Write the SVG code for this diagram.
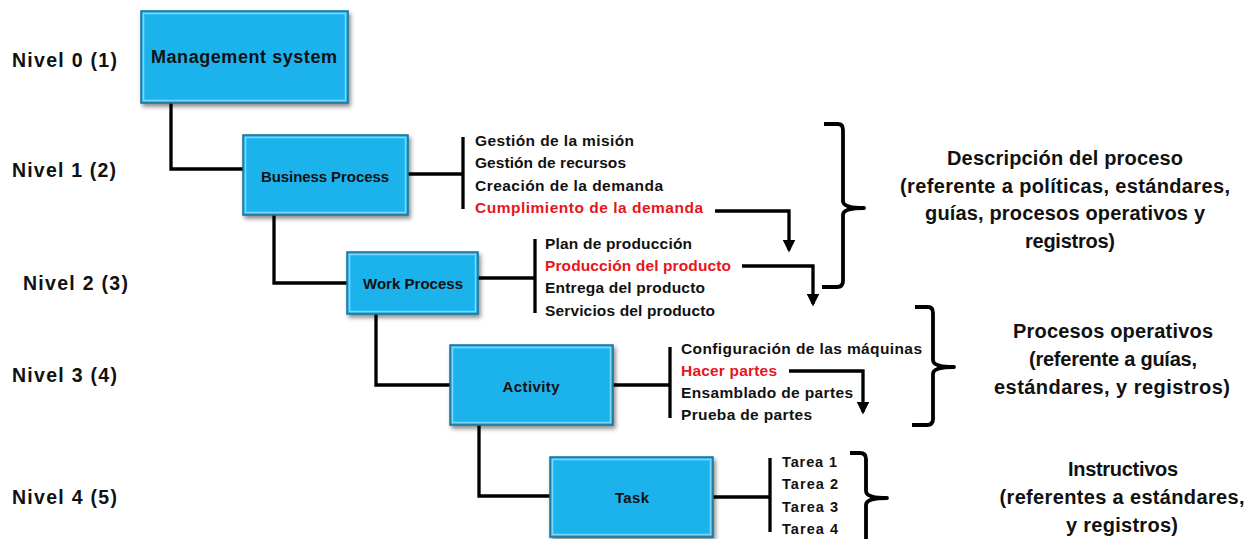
<svg xmlns="http://www.w3.org/2000/svg" width="1251" height="539" viewBox="0 0 1251 539">
<style>
text{font-family:"Liberation Sans",Arial,sans-serif;font-weight:bold;fill:#111}
.lvl{font-size:19.5px}
.box{font-size:15px;text-anchor:middle}
.lst{font-size:15.5px}
.red{fill:#e8151b}
.desc{font-size:20px;text-anchor:middle}
.ln{fill:none;stroke:#000;stroke-width:3.3}
.br{fill:none;stroke:#000;stroke-width:3.8;stroke-linejoin:round}
.node rect.b{fill:#1fb3ec;stroke:#1a6f92;stroke-width:1.5}
.node rect.h{fill:none;stroke:#7fd6f7;stroke-width:1.5}
</style>
<defs>
<filter id="sh" x="-10%" y="-10%" width="130%" height="140%"><feDropShadow dx="2" dy="3" stdDeviation="2" flood-color="#000" flood-opacity="0.45"/></filter>
<marker id="ar" viewBox="0 0 10 10" refX="8" refY="5" markerWidth="3.8" markerHeight="3.8" orient="auto"><path d="M0,0 L10,5 L0,10 z" fill="#000"/></marker>
</defs>
<g id="levels">
<text class="lvl" x="12" y="67" textLength="105">Nivel 0 (1)</text>
<text class="lvl" x="12" y="177" textLength="104">Nivel 1 (2)</text>
<text class="lvl" x="23" y="290" textLength="105">Nivel 2 (3)</text>
<text class="lvl" x="12" y="382" textLength="105">Nivel 3 (4)</text>
<text class="lvl" x="12" y="504" textLength="105">Nivel 4 (5)</text>
</g>
<g id="connectors">
<path class="ln" d="M171,103 V169 H243"/>
<path class="ln" d="M274,215 V283 H347"/>
<path class="ln" d="M376,314 V385 H450"/>
<path class="ln" d="M479,425 V496 H550"/>
<path class="ln" d="M408,174 H463"/>
<path class="ln" d="M478,278 H535"/>
<path class="ln" d="M613,385 H670"/>
<path class="ln" d="M713,497 H770"/>
<path class="ln" d="M463,137 V209"/>
<path class="ln" d="M535,239 V313"/>
<path class="ln" d="M670,347 V418"/>
<path class="ln" d="M770,458 V532"/>
<path class="ln" d="M715,211 H789 V250" marker-end="url(#ar)"/>
<path class="ln" d="M742,266 H813 V304" marker-end="url(#ar)"/>
<path class="ln" d="M789,371 H863 V412" marker-end="url(#ar)"/>
</g>
<g id="braces">
<path class="br" d="M824,124 H838 Q843,124 843,130 V201 Q843,208 864,208 Q843,208 843,215 V281 Q843,287 837,287 H822"/>
<path class="br" d="M915,307 H928 Q933,307 933,313 V360 Q933,367 954,367 Q933,367 933,374 V419 Q933,425 927,425 H912"/>
<path class="br" d="M850,453 H860 Q866,453 866,459 V491 Q866,498 887,498 Q866,498 866,505 V545"/>
</g>
<g id="n0" class="node">
<rect class="b" x="141" y="11" width="207" height="92" filter="url(#sh)"/>
<rect class="h" x="143.5" y="13.5" width="202" height="87"/>
<text class="box" x="244" y="63" style="font-size:18px" textLength="186">Management system</text>
</g>
<g id="n1" class="node">
<rect class="b" x="243" y="135" width="165" height="80" filter="url(#sh)"/>
<rect class="h" x="245.5" y="137.5" width="160" height="75"/>
<text class="box" x="325" y="182" textLength="128">Business Process</text>
<text class="lst" x="475" y="146" textLength="159">Gestión de la misión</text>
<text class="lst" x="475" y="168" textLength="151">Gestión de recursos</text>
<text class="lst" x="475" y="191" textLength="188">Creación de la demanda</text>
<text class="lst red" x="475" y="213" textLength="228">Cumplimiento de la demanda</text>
</g>
<g id="n2" class="node">
<rect class="b" x="347" y="252" width="131" height="62" filter="url(#sh)"/>
<rect class="h" x="349.5" y="254.5" width="126" height="57"/>
<text class="box" x="413" y="289" textLength="100">Work Process</text>
<text class="lst" x="545" y="249" textLength="147">Plan de producción</text>
<text class="lst red" x="545" y="271" textLength="186">Producción del producto</text>
<text class="lst" x="545" y="293" textLength="160">Entrega del producto</text>
<text class="lst" x="545" y="316" textLength="170">Servicios del producto</text>
</g>
<g id="n3" class="node">
<rect class="b" x="450" y="345" width="163" height="80" filter="url(#sh)"/>
<rect class="h" x="452.5" y="347.5" width="158" height="75"/>
<text class="box" x="531" y="392" textLength="57">Activity</text>
<text class="lst" x="681" y="354" textLength="241">Configuración de las máquinas</text>
<text class="lst red" x="681" y="376" textLength="96">Hacer partes</text>
<text class="lst" x="681" y="398" textLength="172">Ensamblado de partes</text>
<text class="lst" x="681" y="420" textLength="131">Prueba de partes</text>
</g>
<g id="n4" class="node">
<rect class="b" x="550" y="457" width="163" height="80" filter="url(#sh)"/>
<rect class="h" x="552.5" y="459.5" width="158" height="75"/>
<text class="box" x="632" y="503" textLength="34">Task</text>
<text class="lst" x="782" y="467" style="font-size:14.5px" textLength="55">Tarea 1</text>
<text class="lst" x="782" y="489" style="font-size:14.5px" textLength="56">Tarea 2</text>
<text class="lst" x="782" y="512" style="font-size:14.5px" textLength="56">Tarea 3</text>
<text class="lst" x="782" y="534" style="font-size:14.5px" textLength="56">Tarea 4</text>
</g>
<g id="desc">
<text class="desc" x="1065" y="165" textLength="236">Descripción del proceso</text>
<text class="desc" x="1065" y="193" textLength="330">(referente a políticas, estándares,</text>
<text class="desc" x="1065" y="220" textLength="280">guías, procesos operativos y</text>
<text class="desc" x="1070" y="248" textLength="90">registros)</text>
<text class="desc" x="1113" y="338" textLength="200">Procesos operativos</text>
<text class="desc" x="1113" y="366" textLength="168">(referente a guías,</text>
<text class="desc" x="1112" y="394" textLength="236">estándares, y registros)</text>
<text class="desc" x="1123" y="476" textLength="110">Instructivos</text>
<text class="desc" x="1122" y="504" textLength="245">(referentes a estándares,</text>
<text class="desc" x="1122" y="532" textLength="112">y registros)</text>
</g>
</svg>
